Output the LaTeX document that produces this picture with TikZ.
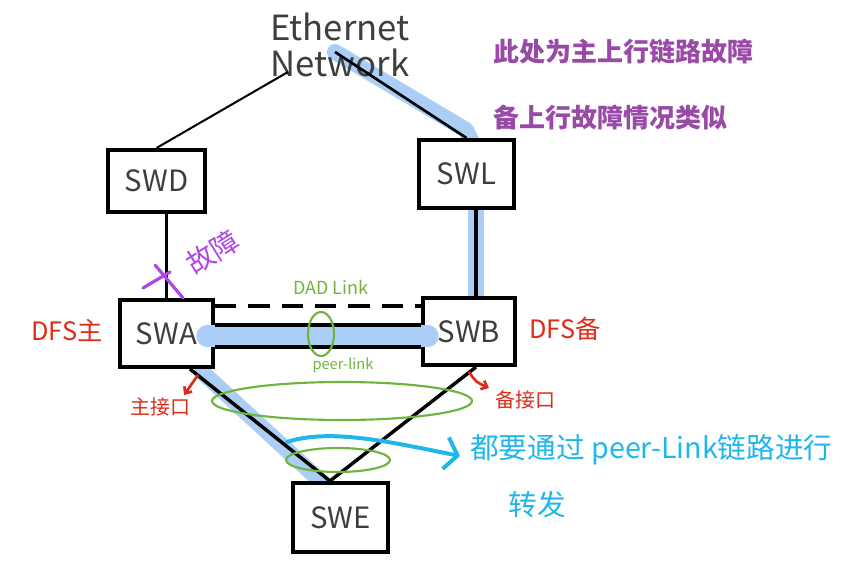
\documentclass[tikz,border=0pt]{standalone}
\usepackage{fontspec}
\newfontfamily\cjk{Noto Sans CJK SC}
\usetikzlibrary{arrows.meta}
\definecolor{hl}{RGB}{170,206,245}
\definecolor{grn}{RGB}{112,180,64}
\definecolor{cyn}{RGB}{32,182,234}
\definecolor{rd}{RGB}{222,44,22}
\definecolor{pur}{RGB}{178,70,228}
\definecolor{purt}{RGB}{152,74,166}
\definecolor{ink}{RGB}{62,62,62}
\begin{document}
\begin{tikzpicture}[x=0.75pt,y=-0.75pt,
  sw/.style={draw=black, line width=3pt, fill=white, text=ink, inner sep=0pt,
    font=\cjk\fontsize{22}{24}\selectfont},
  link/.style={line width=2.6pt, black},
  hilite/.style={hl, line width=12pt, line cap=round, line join=round},
  note/.style={inner sep=0pt},
  grnline/.style={grn, line width=1.6pt}]
\useasboundingbox (0,0) rectangle (865,574);

% helper coordinates
\coordinate (xL) at (476,0);
\coordinate (a1) at (190,0);
\coordinate (e1) at (330,0);
\coordinate (dd) at (0,306);
\coordinate (p1) at (0,325);
\coordinate (p2) at (0,347);
\coordinate (nl) at (288,72);
\coordinate (nr) at (335,52);

% blue highlights (path of traffic)
\draw[hilite] (nr) -- (466,130) -- (474,146);
\draw[hilite] (476,210) -- (476,302);
\draw[hilite] (202,372) -- (326,486);

% switches
\node[sw, minimum width=72.75pt, minimum height=46.5pt] (swd) at (156.5,181) {SWD};
\node[sw, minimum width=71.25pt, minimum height=51pt] (swl) at (466.5,174) {SWL};
\node[sw, minimum width=69.75pt, minimum height=50.25pt] (swa) at (166.5,333.5) {SWA};
\node[sw, minimum width=69pt, minimum height=50.25pt] (swb) at (469,331.5) {SWB};
\node[sw, minimum width=71.25pt, minimum height=51.75pt] (swe) at (340.5,517.5) {SWE};

% Ethernet network
\node[note, align=center, text=ink, font=\cjk\fontsize{26}{27}\selectfont] (net) at (340,45) {Ethernet\\Network};

% peer-link highlight
\draw[hl, line width=16pt, line cap=round] (207,336) -- (428,336);

% links
\draw[line width=1.5pt] (swd.north) -- (nl);
\draw[line width=2pt] (nr) -- (swl.north);
\draw[link] (swa.north) -- (swa.north |- swd.south);
\draw[link] (swl.south -| xL) -- (swb.north -| xL);
\draw[link, dash pattern=on 16pt off 9pt] (swa.east |- dd) -- (swb.west |- dd);
\draw[link] (swa.east |- p1) -- (swb.west |- p1);
\draw[link] (swa.east |- p2) -- (swb.west |- p2);
\draw[link] (swa.south -| a1) -- (swe.north -| e1);
\draw[link] (swb.south -| xL) -- (swe.north -| e1);

% failure mark
\draw[pur, line width=2.4pt, line cap=round] (143,288) -- (170,272);
\draw[pur, line width=2.4pt, line cap=round] (155,265) -- (183,298);
\node[note, text=pur, rotate=32, font=\cjk\fontsize{21}{22}\selectfont] (gz) at (213,252) {故障};

% green annotations
\node[note, text=grn, font=\cjk\fontsize{13.5}{14}\selectfont] (dad) at (331,287) {DAD Link};
\node[note, text=grn, font=\cjk\fontsize{11}{12}\selectfont] (pl) at (343,365) {peer-link};
\draw[grnline] (321,334) ellipse [x radius=13, y radius=22];
\draw[grnline] (342,401) ellipse [x radius=130, y radius=19];
\draw[grnline] (338,460) ellipse [x radius=52, y radius=12];

% red labels
\node[note, text=rd, font=\cjk\fontsize{19}{20}\selectfont] (dfsa) at (67,330) {DFS主};
\node[note, text=rd, font=\cjk\fontsize{19}{20}\selectfont] (dfsb) at (565,329) {DFS备};
\node[note, text=rd, font=\cjk\fontsize{15}{16}\selectfont] (zj) at (160,407) {主接口};
\node[note, text=rd, font=\cjk\fontsize{15}{16}\selectfont] (bj) at (525,400) {备接口};
\draw[rd, line width=2pt, -{Straight Barb[length=4pt,width=7pt]}] (198,375) -- (184,395);
\draw[rd, line width=2pt, -{Straight Barb[length=4pt,width=7pt]}] (469,372) .. controls (476,382) .. (489,388);

% cyan note
\node[note, text=cyn, anchor=west, font=\cjk\fontsize{21.5}{22}\selectfont] (fw1) at (470,450) {都要通过 peer-Link链路进行};
\node[note, text=cyn, font=\cjk\fontsize{21.5}{22}\selectfont] (fw2) at (537,505) {转发};
\coordinate (cs) at (287,442);
\draw[cyn, line width=3pt, line cap=round, -{Straight Barb[length=9pt,width=24pt]}]
  (cs) .. controls (330,428) and (390,442) .. (460,456);

% purple remark
\node[note, text=purt, anchor=west, font=\cjk\bfseries\fontsize{19.5}{20}\selectfont] (r1) at (493,52) {此处为主上行链路故障};
\node[note, text=purt, anchor=west, font=\cjk\bfseries\fontsize{19.5}{20}\selectfont] (r2) at (493,118) {备上行故障情况类似};
\end{tikzpicture}
\end{document}
